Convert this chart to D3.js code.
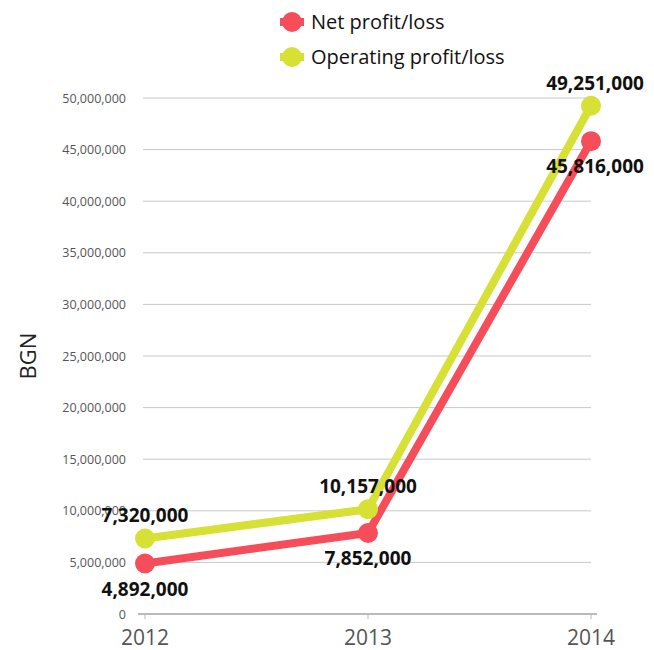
<!DOCTYPE html>
<html><head><meta charset="utf-8">
<script src="https://cdn.jsdelivr.net/npm/d3@7"></script>
<style>body{margin:0;background:#fff;} svg{display:block;font-family:"Open Sans",Lato,sans-serif;}</style>
</head><body><svg id="c" width="654" height="650"></svg>
<script>
const years = ["2012","2013","2014"];
const netProfit = [4892000, 7852000, 45816000];
const operatingProfit = [7320000, 10157000, 49251000];
const seriesNames = ["Net profit/loss","Operating profit/loss"];
const seriesColors = ["#f64d5a","#d7e034"];
const yTicks = [0,5000000,10000000,15000000,20000000,25000000,30000000,35000000,40000000,45000000,50000000];

const svg = d3.select("#c");
const x = d3.scalePoint().domain(years).range([145,591]);
const y = d3.scaleLinear().domain([0,50000000]).range([614,98]);
const fmt = d3.format(",");

// gridlines
svg.append("g").selectAll("line").data(yTicks.filter(d=>d>0)).join("line")
  .attr("x1",143).attr("x2",591).attr("y1",d=>y(d)).attr("y2",d=>y(d))
  .attr("stroke","#c8c8c8").attr("stroke-width",1);
// y labels
svg.append("g").selectAll("text").data(yTicks).join("text")
  .attr("x",126).attr("y",d=>y(d)+4.5).attr("text-anchor","end")
  .attr("font-size",12.5).attr("fill","#555").text(d=>fmt(d));
// baseline
svg.append("line").attr("x1",138).attr("x2",597).attr("y1",y(0)).attr("y2",y(0))
  .attr("stroke","#bbb").attr("stroke-width",2);
// x ticks
svg.append("g").selectAll("line").data(years).join("line")
  .attr("x1",d=>x(d)).attr("x2",d=>x(d)).attr("y1",y(0)).attr("y2",y(0)+5)
  .attr("stroke","#bbb").attr("stroke-width",1);
svg.append("g").selectAll("text").data(years).join("text")
  .attr("x",d=>x(d)).attr("y",645).attr("text-anchor","middle")
  .attr("font-size",21).attr("fill","#555").text(d=>d);
// y axis title
svg.append("text").attr("transform","translate(36,356) rotate(-90)")
  .attr("text-anchor","middle").attr("font-size",22).attr("fill","#222").text("BGN");

const series = [
  {name:seriesNames[0], values:netProfit, color:seriesColors[0], pos:["below","below","below"]},
  {name:seriesNames[1], values:operatingProfit, color:seriesColors[1], pos:["above","above","above"]}
];
const line = d3.line().x((d,i)=>x(years[i])).y(d=>y(d));
series.forEach(s=>{
  svg.append("path").datum(s.values).attr("d",line).attr("fill","none")
    .attr("stroke",s.color).attr("stroke-width",8).attr("stroke-linejoin","round");
});
series.forEach(s=>{
  svg.append("g").selectAll("circle").data(s.values).join("circle")
    .attr("cx",(d,i)=>x(years[i])).attr("cy",d=>y(d)).attr("r",10).attr("fill",s.color);
});
// labels
const labelDx = [0,0,4];
series.forEach(s=>{
  svg.append("g").selectAll("text").data(s.values).join("text")
    .attr("x",(d,i)=>x(years[i])+labelDx[i])
    .attr("y",(d,i)=>s.pos[i]==="above"? y(d)-16 : y(d)+32)
    .attr("text-anchor","middle").attr("font-size",19).attr("font-weight","bold")
    .attr("fill","#111").text(d=>fmt(d));
});
// legend
const leg = svg.append("g");
series.forEach((s,i)=>{
  const g = leg.append("g").attr("transform",`translate(292,${22+i*35})`);
  g.append("rect").attr("x",-12).attr("y",-4).attr("width",24).attr("height",8).attr("fill",s.color);
  g.append("circle").attr("r",10).attr("fill",s.color);
  g.append("text").attr("x",19).attr("y",7).attr("font-size",20).attr("fill","#111").text(s.name);
});
</script></body></html>
